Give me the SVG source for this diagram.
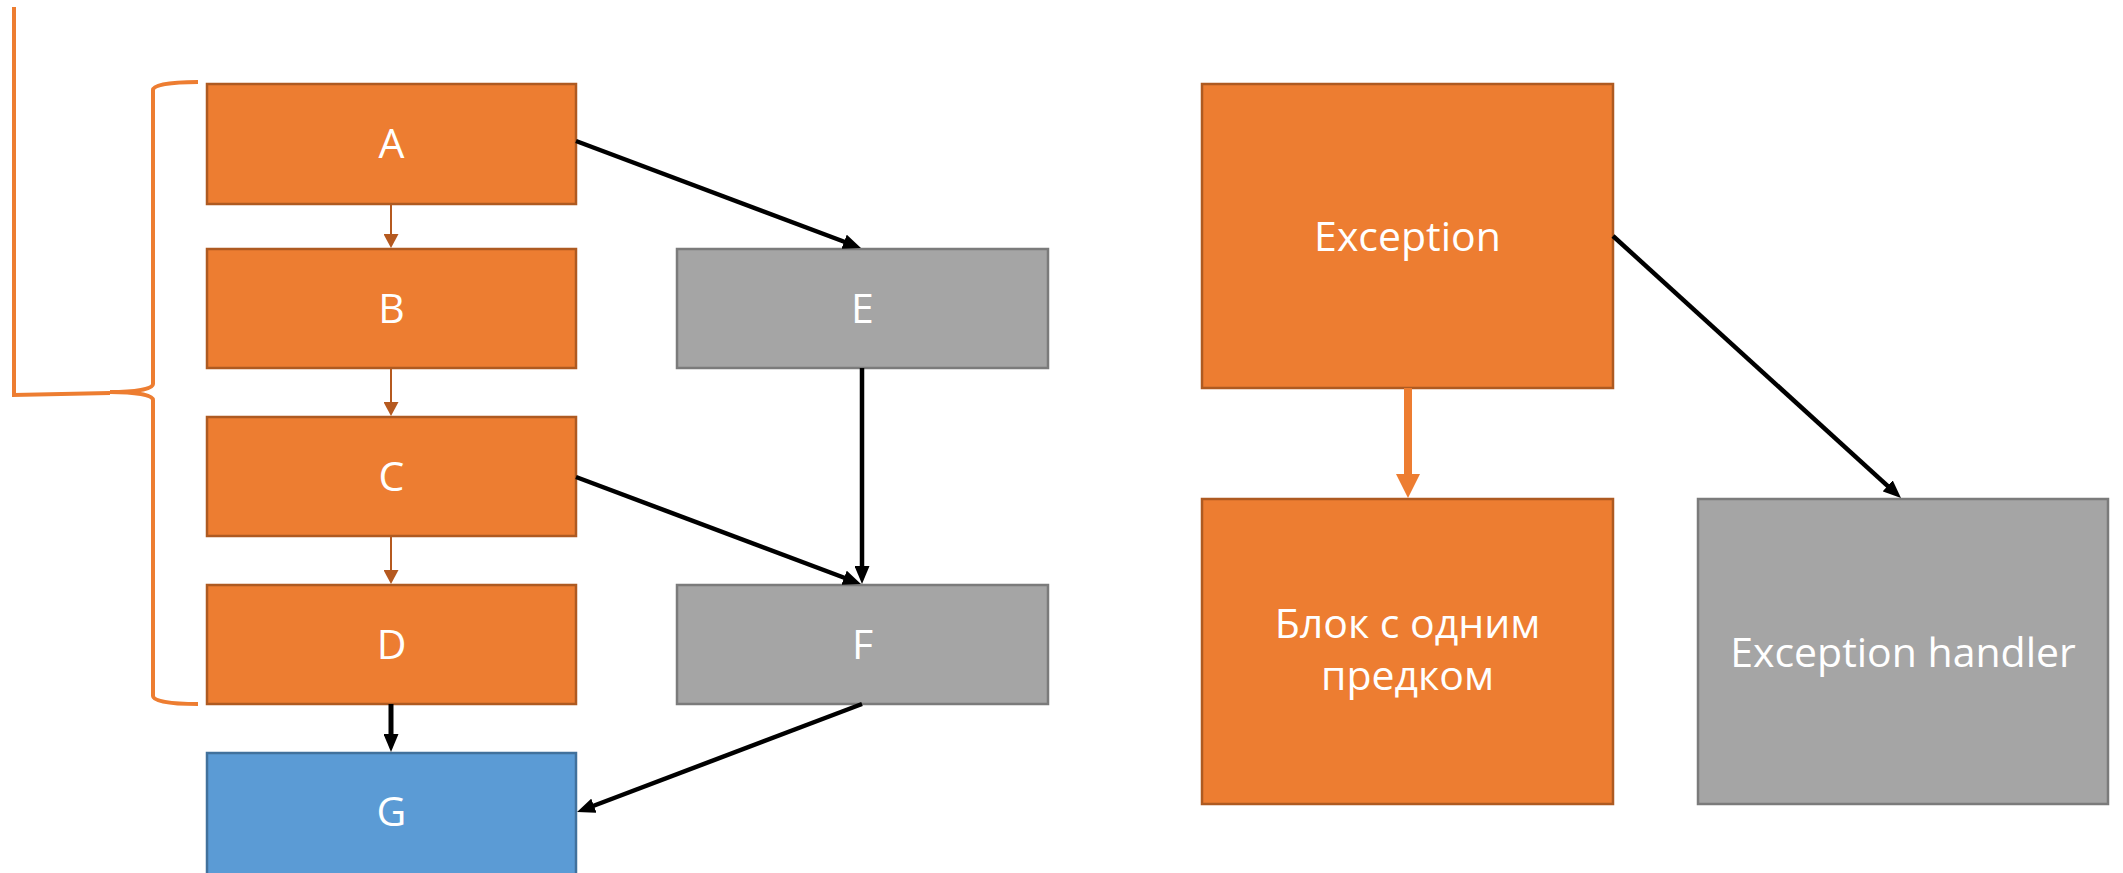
<svg xmlns="http://www.w3.org/2000/svg" width="2123" height="873" viewBox="0 0 2123 873">
  <style>
    .orange { fill: #ED7D31; stroke: #AE5A21; stroke-width: 2.5; }
    .gray { fill: #A5A5A5; stroke: #7B7B7B; stroke-width: 2.5; }
    .blue { fill: #5B9BD5; stroke: #41719C; stroke-width: 2.5; }
    .label { font-family: "Open Sans", "Noto Sans", "DejaVu Sans", sans-serif; font-size: 41px; fill: #FFFFFF; text-anchor: middle; }
    .flow { stroke: #B5591F; stroke-width: 2; fill: none; }
    .edge { stroke: #000000; stroke-width: 4.5; fill: none; }
    .bold-edge { stroke: #000000; stroke-width: 5; fill: none; }
    .main-edge { stroke: #ED7D31; stroke-width: 8; fill: none; }
    .brace { stroke: #ED7D31; stroke-width: 4; fill: none; }
  </style>
  <defs>
    <marker id="arrow-black" markerUnits="userSpaceOnUse" markerWidth="18" markerHeight="15" refX="8" refY="7.5" orient="auto">
      <path d="M0,0 L18,7.5 L0,15 z" fill="#000000"/>
    </marker>
    <marker id="arrow-brown" markerUnits="userSpaceOnUse" markerWidth="14" markerHeight="15" refX="4" refY="7.5" orient="auto">
      <path d="M0,0 L14,7.5 L0,15 z" fill="#B5591F"/>
    </marker>
    <marker id="arrow-orange" markerUnits="userSpaceOnUse" markerWidth="24" markerHeight="24" refX="2" refY="12" orient="auto">
      <path d="M0,0 L24,12 L0,24 z" fill="#ED7D31"/>
    </marker>
  </defs>

  <!-- bracket grouping blocks A..D -->
  <g id="bracket">
    <path class="brace" d="M14,7 L14,395 L110,393"/>
    <path class="brace" d="M198,82 C170,82 153,85 153,90 L153,384 C153,389 135,392 110,392 C135,392 153,395 153,400 L153,696 C153,701 170,704 198,704"/>
  </g>

  <g id="node-A">
    <rect class="orange" x="207" y="84" width="369" height="120"/>
    <text class="label" x="391.5" y="158">A</text>
  </g>
  <g id="node-B">
    <rect class="orange" x="207" y="249" width="369" height="119"/>
    <text class="label" x="391.5" y="323">B</text>
  </g>
  <g id="node-C">
    <rect class="orange" x="207" y="417" width="369" height="119"/>
    <text class="label" x="391.5" y="491">C</text>
  </g>
  <g id="node-D">
    <rect class="orange" x="207" y="585" width="369" height="119"/>
    <text class="label" x="391.5" y="659">D</text>
  </g>
  <g id="node-G">
    <rect class="blue" x="207" y="753" width="369" height="125"/>
    <text class="label" x="391.5" y="826">G</text>
  </g>
  <g id="node-E">
    <rect class="gray" x="677" y="249" width="371" height="119"/>
    <text class="label" x="862.5" y="323">E</text>
  </g>
  <g id="node-F">
    <rect class="gray" x="677" y="585" width="371" height="119"/>
    <text class="label" x="862.5" y="659">F</text>
  </g>
  <g id="node-exception">
    <rect class="orange" x="1202" y="84" width="411" height="304"/>
    <text class="label" x="1407.5" y="251">Exception</text>
  </g>
  <g id="node-single-pred">
    <rect class="orange" x="1202" y="499" width="411" height="305"/>
    <text class="label" x="1407.5" y="638">Блок с одним</text>
    <text class="label" x="1407.5" y="690">предком</text>
  </g>
  <g id="node-handler">
    <rect class="gray" x="1698" y="499" width="410" height="305"/>
    <text class="label" x="1903" y="667">Exception handler</text>
  </g>

  <g id="connectors">
    <line class="flow" x1="391" y1="205" x2="391" y2="238" marker-end="url(#arrow-brown)"/>
    <line class="flow" x1="391" y1="369" x2="391" y2="406" marker-end="url(#arrow-brown)"/>
    <line class="flow" x1="391" y1="537" x2="391" y2="574" marker-end="url(#arrow-brown)"/>
    <line class="bold-edge" x1="391" y1="704" x2="391" y2="742" marker-end="url(#arrow-black)"/>
    <line class="edge" x1="576" y1="141" x2="851.6" y2="244.5" marker-end="url(#arrow-black)"/>
    <line class="edge" x1="576" y1="477" x2="851.6" y2="580.5" marker-end="url(#arrow-black)"/>
    <line class="edge" x1="862" y1="368" x2="862" y2="574" marker-end="url(#arrow-black)"/>
    <line class="edge" x1="862" y1="704" x2="586.4" y2="808.5" marker-end="url(#arrow-black)"/>
    <line class="edge" x1="1613" y1="236" x2="1893.6" y2="491.3" marker-end="url(#arrow-black)"/>
    <line class="main-edge" x1="1408" y1="388" x2="1408" y2="476" marker-end="url(#arrow-orange)"/>
  </g>
</svg>
